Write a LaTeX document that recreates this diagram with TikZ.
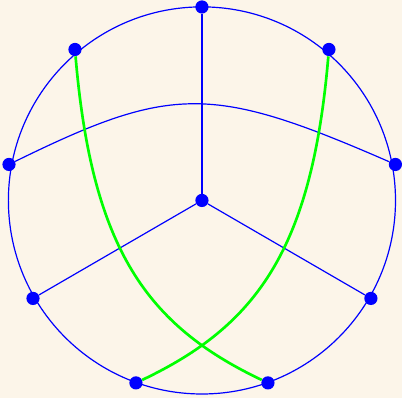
\documentclass[tikz,border=0pt]{standalone}
\usepackage{tikz}
\usetikzlibrary{arrows.meta}
\definecolor{cream}{RGB}{252,245,233}
\definecolor{rimblue}{RGB}{0,0,255}
\definecolor{pathgreen}{RGB}{0,255,0}
\tikzset{
	vdot/.style={circle, fill=rimblue, inner sep=0pt, minimum size=0.33cm},
	rim/.style={draw=rimblue, line width=0.85pt},
	spoke/.style={draw=rimblue, line width=0.85pt},
	greenpath/.style={draw=pathgreen, line width=1.9pt},
}

\begin{document}
\begin{tikzpicture}[x=0.025cm, y=0.025cm]
	\fill[cream] (-202,-197.5) rectangle (200,200.5);
	\draw[rim] (0,0) circle (193.6);
	\node[vdot] (top) at (0,193.5) {};
	\node[vdot] (upleft) at (-127,151) {};
	\node[vdot] (upright) at (127,151) {};
	\node[vdot] (west) at (-193,36) {};
	\node[vdot] (east) at (193.5,36) {};
	\node[vdot] (lowleft) at (-169,-98) {};
	\node[vdot] (lowright) at (169,-98) {};
	\node[vdot] (botleft) at (-66,-182.5) {};
	\node[vdot] (botright) at (66,-182.5) {};
	\node[vdot] (mid) at (0,0) {};
	\draw[spoke] (mid) -- (top);
	\draw[spoke] (mid) -- (lowleft);
	\draw[spoke] (mid) -- (lowright);
	\draw[spoke] (west) .. controls (-30,116) and (10,116) .. (east);
	\draw[greenpath] (upleft) .. controls (-110,-49) and (-55,-125) .. (botright);
	\draw[greenpath] (upright) .. controls (110,-49) and (55,-125) .. (botleft);
\end{tikzpicture}
\end{document}
